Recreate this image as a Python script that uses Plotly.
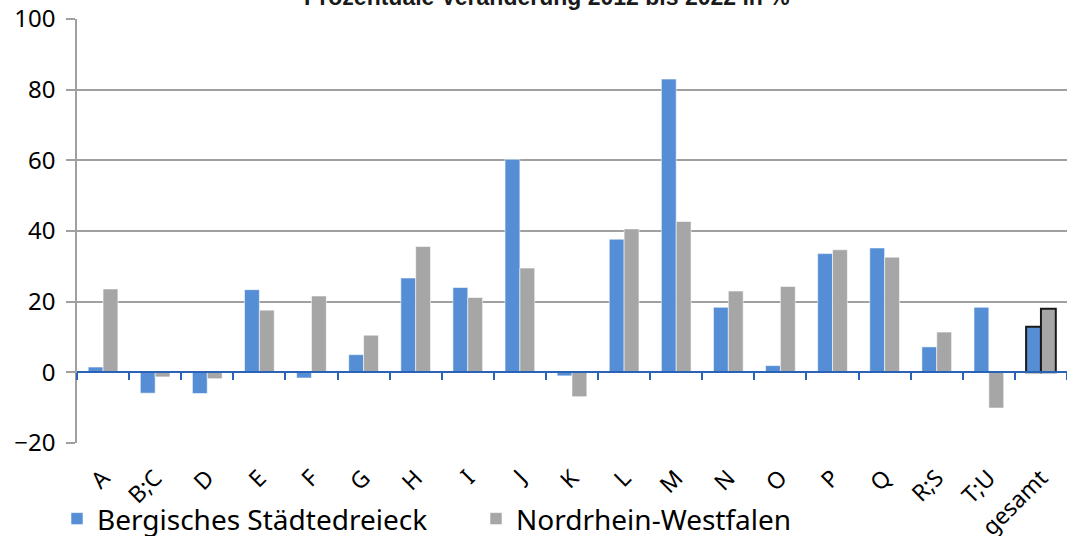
import plotly.graph_objects as go

categories = ["A", "B;C", "D", "E", "F", "G", "H", "I", "J", "K", "L", "M", "N", "O", "P", "Q", "R;S", "T;U", "gesamt"]
bergisch = [1.5, -5.9, -6.0, 23.4, -1.6, 5.0, 26.7, 24.0, 60.3, -1.0, 37.7, 83.0, 18.4, 1.9, 33.6, 35.2, 7.2, 18.4, 12.9]
nrw = [23.6, -1.3, -1.8, 17.6, 21.6, 10.5, 35.6, 21.2, 29.5, -6.9, 40.6, 42.7, 23.0, 24.3, 34.7, 32.6, 11.4, -10.1, 18.0]
y_ticks = [-20, 0, 20, 40, 60, 80, 100]

FONT = "Noto Sans"
BLUE = "#558ED5"
GRAY = "#A6A6A6"

def line_colors(n):
    return ["rgba(255,255,255,0.7)"] * (n - 1) + ["#1a1a1a"]

def line_widths(n):
    return [0.8] * (n - 1) + [2]

fig = go.Figure()
fig.add_trace(go.Bar(
    x=categories, y=bergisch, name="Bergisches Städtedreieck",
    marker=dict(color=BLUE, line=dict(color=line_colors(len(categories)), width=line_widths(len(categories)))),
    width=0.285, offset=-0.285, xaxis="x", yaxis="y",
))
fig.add_trace(go.Bar(
    x=categories, y=nrw, name="Nordrhein-Westfalen",
    marker=dict(color=GRAY, line=dict(color=line_colors(len(categories)), width=line_widths(len(categories)))),
    width=0.285, offset=0.0, xaxis="x2", yaxis="y",
))

fig.add_annotation(
    text="<b>Prozentuale Veränderung 2012 bis 2022 in %</b>",
    xref="paper", yref="paper", x=0.475, y=1.016, xanchor="center", yanchor="bottom",
    showarrow=False, font=dict(family="Liberation Sans", size=23, color="#1a1a1a"),
)

fig.update_layout(
    width=1067, height=536,
    margin=dict(l=77, r=0, t=19, b=93, autoexpand=False),
    paper_bgcolor="white", plot_bgcolor="white",
    barmode="overlay",
    font=dict(family=FONT, size=20, color="black"),
    xaxis=dict(
        type="category", categoryorder="array", categoryarray=categories,
        tickangle=-45, showline=False, ticks="", showgrid=False, automargin=False,
        tickfont=dict(family=FONT, size=23, color="black"), ticklabelstandoff=16,
        ticklabeloverflow="allow",
    ),
    xaxis2=dict(
        type="category", overlaying="x", matches="x", anchor="free", position=20 / 120,
        showline=True, linecolor="#2a62b5", linewidth=2, automargin=False,
        ticks="outside", tickson="boundaries", ticklen=7, tickwidth=2, tickcolor="#2a62b5",
        showticklabels=False, showgrid=False,
    ),
    yaxis=dict(
        range=[-20, 100], tickvals=y_ticks, showgrid=True, gridcolor="#A0A0A0", gridwidth=1.5,
        showline=True, linecolor="#A0A0A0", linewidth=1.5, zeroline=False, automargin=False,
        ticks="outside", ticklen=9, tickcolor="#A0A0A0", tickwidth=1.5,
        tickfont=dict(family=FONT, size=24, color="black"), ticklabelstandoff=6,
        ticklabeloverflow="allow",
    ),
    legend=dict(
        orientation="h", x=-0.0202, y=-0.179, xanchor="left", yanchor="middle",
        font=dict(family=FONT, size=28, color="black"),
        entrywidth=374, entrywidthmode="pixels", itemwidth=30,
        bgcolor="rgba(0,0,0,0)",
    ),
)

fig.write_html(
    "out.html",
    config={"displayModeBar": False},
    post_script="document.body.style.margin='0';document.body.style.overflow='hidden';",
)
